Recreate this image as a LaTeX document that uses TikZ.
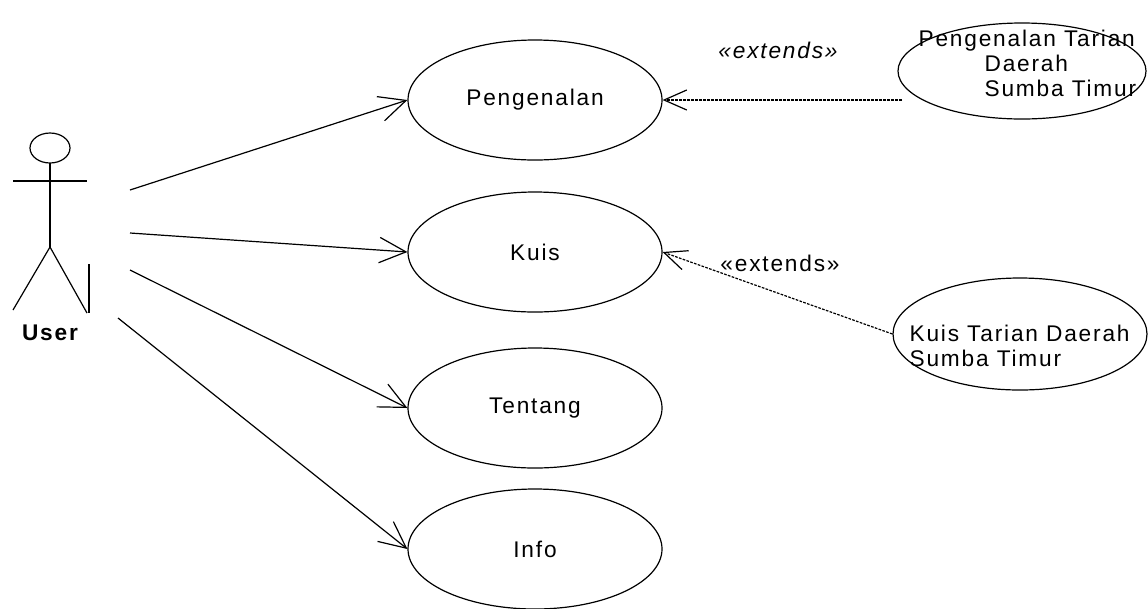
\documentclass[tikz,border=0pt]{standalone}
\usepackage{fontspec}
\setmainfont{Liberation Sans}[LetterSpace=8]
\usetikzlibrary{arrows.meta,shapes.geometric}
\tikzset{every picture/.style={line width=0.75pt}}
\tikzset{
usecase/.style={draw, shape=ellipse, inner sep=0pt, minimum width=190.5pt, minimum height=90pt},
txt/.style={inner sep=0.75pt, font=\fontsize{17}{18.75}\selectfont},
assoc/.style={-{Straight Barb[length=20pt,width=19pt,line width=0.9pt]}},
extend/.style={-{Straight Barb[length=17pt,width=15pt,line width=0.9pt]}, dash pattern=on 2pt off 1pt}
}

\begin{document}
\begin{tikzpicture}[x=0.75pt,y=0.75pt,yscale=-1,xscale=1,line width=0.9pt]
\useasboundingbox (0,0) rectangle (1148,608);

%Shape: Actor
\draw   (50,148) ellipse (20 and 15) ;
\draw    (50,163) -- (50,247) ;
\draw    (13,181) -- (87,181) ;
\draw    (13,310) -- (50,247) -- (87,313) ;
\draw    (89,264) -- (89,313) ;
% Text Node
\draw (50,333) node [txt, font=\fontsize{17}{18.75}\selectfont\bfseries] (user) {User};

%Shape: Ellipse (use cases)
\draw (535,100) node [usecase, txt] (peng) {Pengenalan};
\draw (535,252) node [usecase, txt] (kuis) {Kuis};
\draw (535,408) node [usecase, txt] (tentang) {Tentang};
\draw (535,549) node [usecase, txt] (info) {Info};
\draw (1022,71) node [usecase, minimum width=186pt, minimum height=72pt] (pengtari) {};
\draw (1020,334) node [usecase, minimum width=190.5pt, minimum height=84pt] (kuistari) {};

% Text Node
\draw (917,63) node [anchor=west, align=left, txt] (pengtaritxt) {Pengenalan Tarian\\\hspace{49.5pt}Daerah\\\hspace{49.5pt}Sumba Timur};
% Text Node
\draw (908,346) node [anchor=west, align=left, txt] (kuistaritxt) {Kuis Tarian Daerah\\Sumba Timur};

%Straight Lines
\coordinate (u1) at (130,190);
\coordinate (u2) at (130,233);
\coordinate (u3) at (130,270);
\coordinate (u4) at (118,318);
\draw [assoc] (u1) -- (peng.west) ;
\draw [assoc] (u2) -- (kuis.west) ;
\draw [assoc] (u3) -- (tentang.west) ;
\draw [assoc] (u4) -- (info.west) ;

%Straight Lines (extends)
\coordinate (e1) at (902,100);
\draw [extend] (e1) -- (peng.east) ;
\draw [extend] (kuistari.west) -- (kuis.east) ;

% Text Node
\draw (778,50) node [txt, font=\fontsize{17}{18.75}\selectfont\itshape] (ext1) {«extends»};
% Text Node
\draw (780,263) node [txt] (ext2) {«extends»};
\end{tikzpicture}
\end{document}
